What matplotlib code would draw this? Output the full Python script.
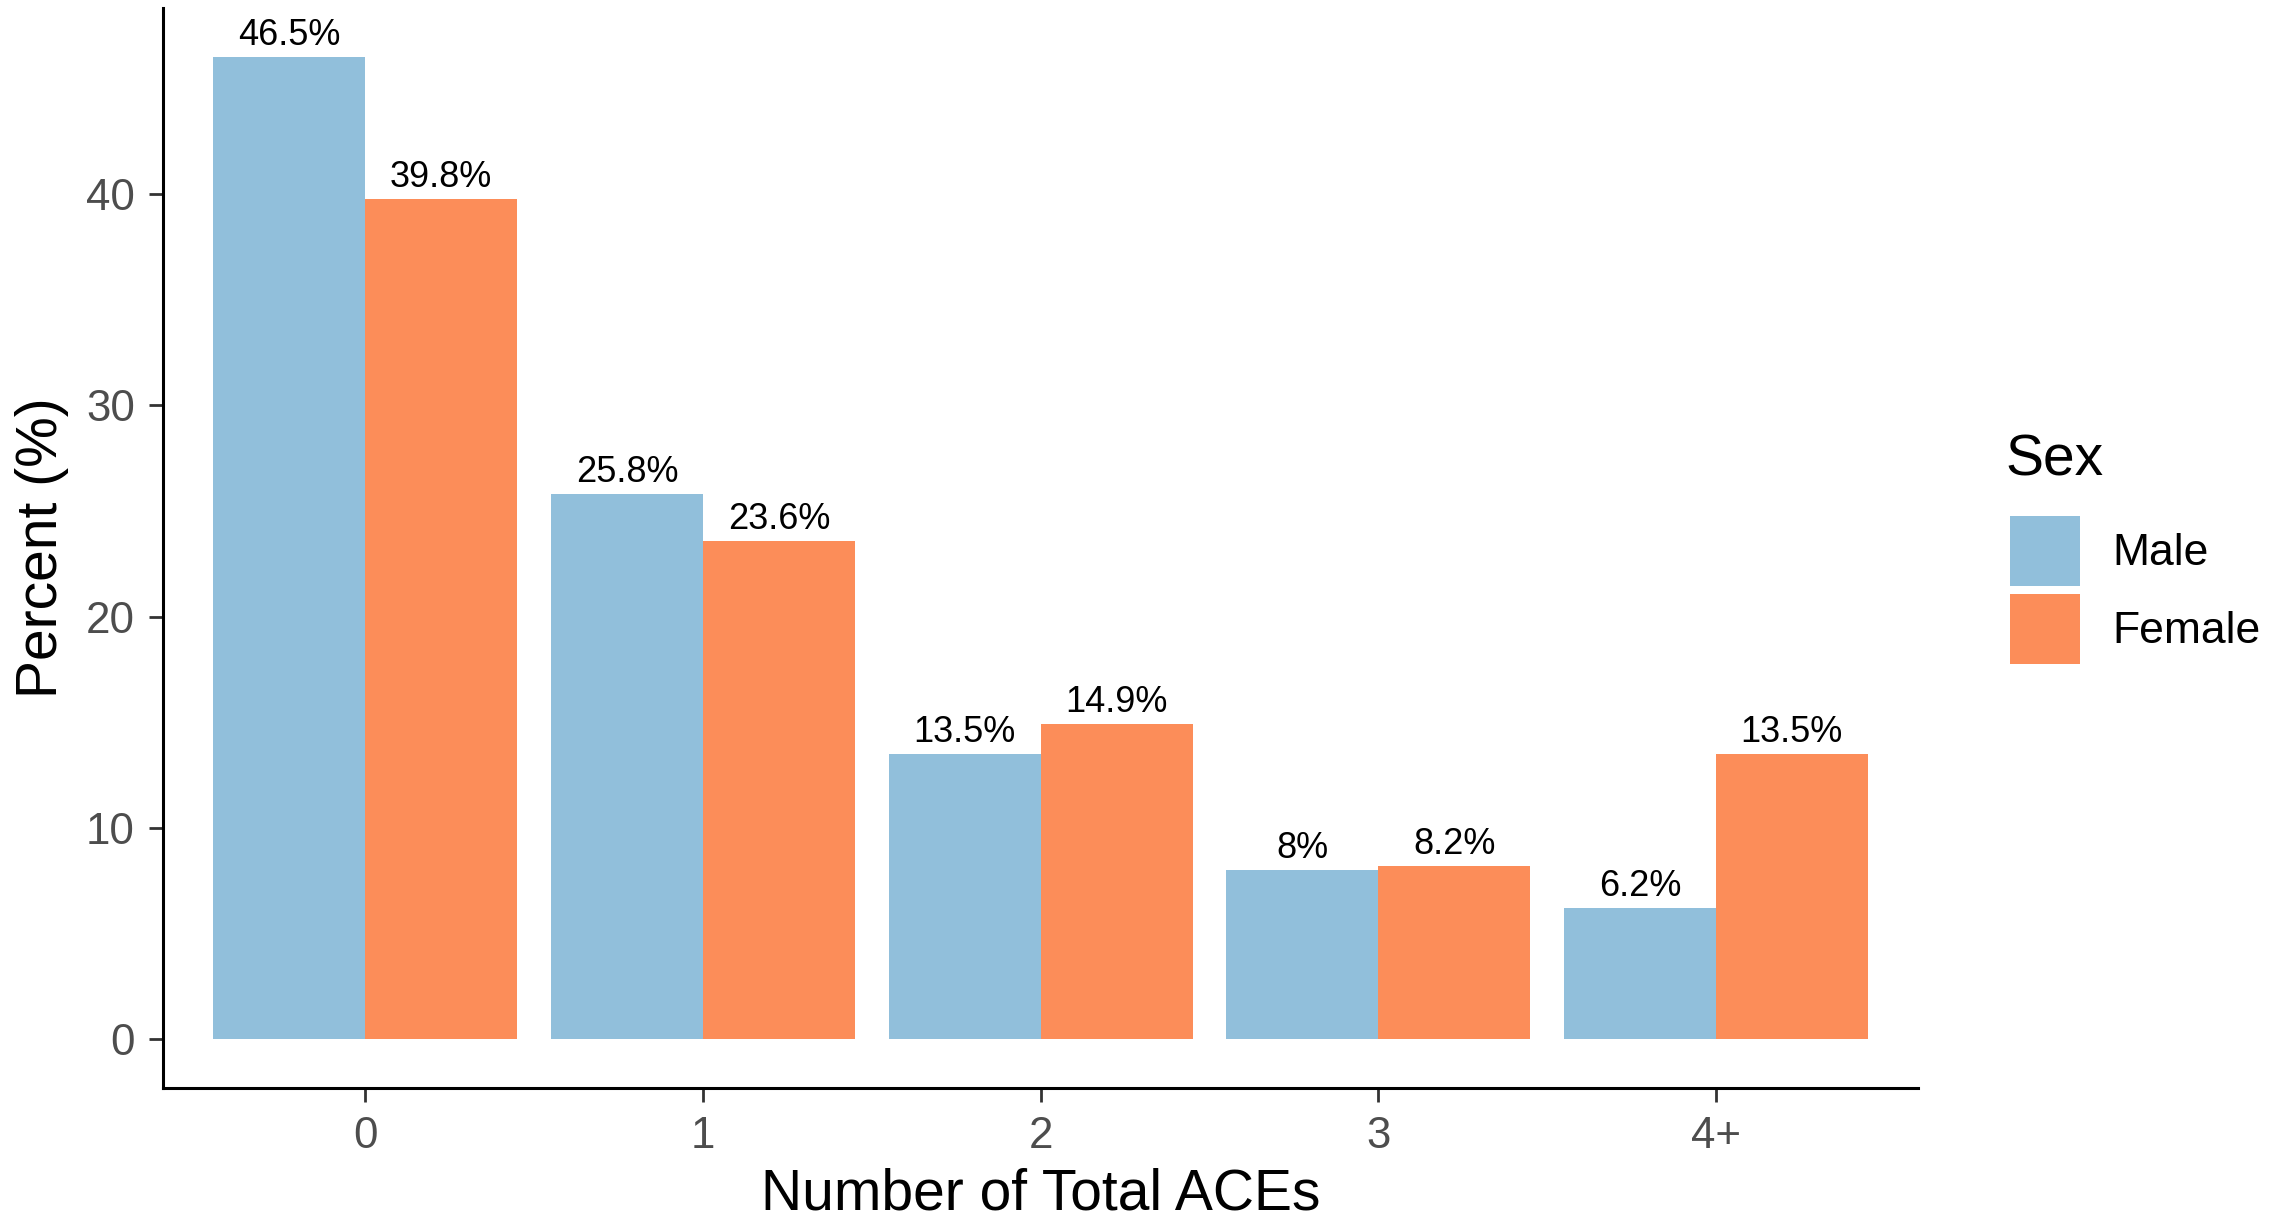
import matplotlib
matplotlib.use("Agg")
from matplotlib import pyplot as plt
import numpy as np

# data
categories = ["0", "1", "2", "3", "4+"]
male_pct = [46.5, 25.8, 13.5, 8.0, 6.2]
female_pct = [39.8, 23.6, 14.9, 8.2, 13.5]
series_names = ["Male", "Female"]
y_ticks = [0, 10, 20, 30, 40]

male_color = "#91BFDB"
female_color = "#FC8D59"

plt.rcParams["font.family"] = ["Liberation Sans", "DejaVu Sans"]

fig = plt.figure(figsize=(11.46, 6.095), dpi=200)
ax = fig.add_axes([0.0710, 0.1075, 0.8370 - 0.0710, 0.9934 - 0.1075])

x = np.arange(len(categories))
width = 0.45
bars_m = ax.bar(x - width / 2, male_pct, width, color=male_color,
                label=series_names[0], linewidth=0)
bars_f = ax.bar(x + width / 2, female_pct, width, color=female_color,
                label=series_names[1], linewidth=0)

# value labels above each bar
for bars, vals in ((bars_m, male_pct), (bars_f, female_pct)):
    for b, v in zip(bars, vals):
        ax.annotate("{:g}%".format(v),
                    (b.get_x() + b.get_width() / 2, b.get_height()),
                    xytext=(0, 4.3), textcoords="offset points",
                    ha="center", va="baseline", fontsize=13, color="black")

top = max(max(male_pct), max(female_pct))
ax.set_ylim(-0.05 * top, 1.05 * top)
ax.set_xlim(-0.6, len(categories) - 0.4)

ax.set_xticks(x)
ax.set_xticklabels(categories)
ax.set_yticks(y_ticks)

for side in ("top", "right"):
    ax.spines[side].set_visible(False)
for side in ("left", "bottom"):
    ax.spines[side].set_linewidth(1.1)
    ax.spines[side].set_color("black")

ax.tick_params(axis="both", length=5, width=1.0, color="#333333",
               labelsize=15.8, labelcolor="#4D4D4D", pad=5)

ax.set_xlabel("Number of Total ACEs", fontsize=20.5, labelpad=4)
ax.set_ylabel("Percent (%)", fontsize=20.5, labelpad=6)

# legend title drawn separately so the gap to the keys matches
fig.text(2005 / 2292, 1 - 460 / 1219, "Sex", fontsize=20.5,
         ha="left", va="center")
leg = ax.legend(
    loc="upper left",
    bbox_to_anchor=(2010 / 2292, 1 - 516 / 1219),
    bbox_transform=fig.transFigure,
    frameon=False, fontsize=16,
    handlelength=1.57, handleheight=2.05,
    handletextpad=0.74, labelspacing=0.185,
    borderpad=0, borderaxespad=0,
)

fig.savefig("out.png", dpi=200, facecolor="white")
